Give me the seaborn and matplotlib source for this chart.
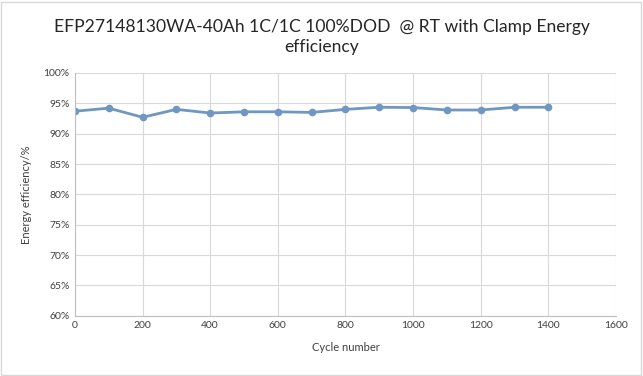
import seaborn as sns
import matplotlib.pyplot as plt
import pandas as pd
from matplotlib.ticker import PercentFormatter

# Datos
cycles = [0, 100, 200, 300, 400, 500, 600, 700, 800, 900, 1000, 1100, 1200, 1300, 1400]
efficiency = [93.7, 94.2, 92.7, 94.0, 93.4, 93.6, 93.6, 93.5, 94.0, 94.35, 94.3, 93.9, 93.9, 94.35, 94.35]

df = pd.DataFrame({'cycle': cycles, 'eff': efficiency})

sns.set_style('whitegrid')
plt.rcParams['font.family'] = ['Lato', 'DejaVu Sans']

fig = plt.figure(figsize=(6.43, 3.76), dpi=100)
ax = fig.add_axes([0.1166, 0.160, 0.8414, 0.646])

sns.lineplot(data=df, x='cycle', y='eff', ax=ax, color='#6F97C2', linewidth=2,
             marker='o', markersize=5.5, markeredgewidth=0, markerfacecolor='#6F97C2')

ax.set_xlim(0, 1600)
ax.set_ylim(60, 100)
ax.set_xticks(range(0, 1601, 200))
ax.set_yticks(range(60, 101, 5))
ax.yaxis.set_major_formatter(PercentFormatter(decimals=0))
ax.grid(True, color='#D9D9D9', linewidth=0.8)
for side in ['top', 'right']:
    ax.spines[side].set_visible(False)
ax.spines['left'].set_color('#BFBFBF')
ax.spines['bottom'].set_color('#BFBFBF')
ax.tick_params(axis='both', labelsize=7.5, colors='#404040', length=0, pad=4)

ax.set_xlabel('Cycle number', fontsize=8, color='#404040', labelpad=8)
ax.set_ylabel('Energy efficiency/%', fontsize=8, color='#404040', labelpad=8)

fig.text(0.5, 1 - 37 / 376, 'EFP27148130WA-40Ah 1C/1C 100%DOD  @ RT with Clamp Energy\nefficiency',
         ha='center', va='center', fontsize=12.6, color='#262626', linespacing=1.3)

fig.patches.append(plt.Rectangle((0.002, 0.003), 0.995, 0.993, transform=fig.transFigure,
                                 fill=False, edgecolor='#D9D9D9', linewidth=1))

fig.savefig('out.png', dpi=100)
